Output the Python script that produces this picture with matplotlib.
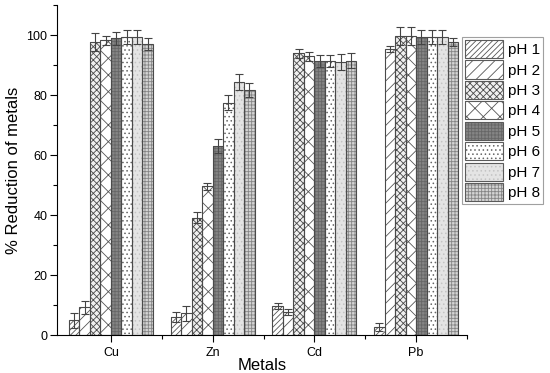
import numpy as np
import matplotlib
matplotlib.use("Agg")
import matplotlib.pyplot as plt
from matplotlib.patches import Patch
from matplotlib.ticker import MultipleLocator

plt.rcParams['font.family'] = ['Liberation Sans', 'DejaVu Sans']
plt.rcParams['hatch.linewidth'] = 0.6

# data
metals = ['Cu', 'Zn', 'Cd', 'Pb']
labels = ['pH 1', 'pH 2', 'pH 3', 'pH 4', 'pH 5', 'pH 6', 'pH 7', 'pH 8']
ph1 = [5.0, 5.9, 9.6, 2.6]
ph2 = [9.3, 7.3, 7.6, 95.3]
ph3 = [97.8, 39.1, 93.9, 99.6]
ph4 = [98.2, 49.6, 92.9, 99.6]
ph5 = [98.9, 63.0, 91.4, 99.3]
ph6 = [99.3, 77.5, 91.2, 99.3]
ph7 = [99.3, 84.4, 90.9, 99.4]
ph8 = [96.9, 81.7, 91.5, 97.7]
err1 = [2.5, 1.7, 1.0, 1.3]
err2 = [2.2, 2.5, 1.0, 1.0]
err3 = [3.0, 1.9, 1.6, 3.0]
err4 = [1.5, 1.1, 1.6, 3.0]
err5 = [2.2, 2.4, 2.0, 2.3]
err6 = [2.4, 2.5, 2.0, 2.3]
err7 = [2.4, 2.6, 2.7, 2.3]
err8 = [2.0, 2.2, 2.5, 1.4]

values = [ph1, ph2, ph3, ph4, ph5, ph6, ph7, ph8]
errors = [err1, err2, err3, err4, err5, err6, err7, err8]

# look of each series: face, hatch, hatch colour
faces = ['white', 'white', '#f0f0f0', 'white', '#858585', 'white', '#e4e4e4', '#d4d4d4']
hatches = ['//////', '///', 'xxxxx', 'xx', '+++++', '....', '....', '+++++']
hcolors = ['#555555', '#555555', '#4a4a4a', '#555555', '#666666', '#666666', '#c4c4c4', '#858585']

fig = plt.figure(figsize=(5.5, 3.73), dpi=100)
ax = fig.add_axes([57/550, 1-335/373, 410/550, 330/373])

x = np.arange(1, len(metals) + 1)
w = 0.103
handles = []
for i in range(8):
    pos = x + (i - 3.5) * w
    b = ax.bar(pos, values[i], w, color=faces[i], hatch=hatches[i],
               edgecolor=hcolors[i], linewidth=0, zorder=2)
    ax.bar(pos, values[i], w, fill=False, edgecolor='#4a4a4a', linewidth=0.8, zorder=3)
    ax.errorbar(pos, values[i], yerr=errors[i], fmt='none', ecolor='#444444',
                elinewidth=0.8, capsize=3, capthick=0.8, zorder=4)
    outline = Patch(facecolor='none', edgecolor='#5a5a5a', linewidth=0.8)
    handles.append((b.patches[0], outline))

ax.set_xlim(0.47, 4.5)
ax.set_ylim(0, 110)
ax.set_xticks(x)
ax.set_xticklabels(metals, fontsize=9)
ax.set_xticks(x + 0.5, minor=True)
ax.set_yticks([0, 20, 40, 60, 80, 100])
ax.yaxis.set_minor_locator(MultipleLocator(10))
ax.tick_params(axis='y', labelsize=9, length=5, width=0.8, pad=2)
ax.tick_params(axis='x', length=5, width=0.8, pad=4)
ax.tick_params(which='minor', length=3, width=0.8)
ax.spines['top'].set_visible(False)
ax.spines['right'].set_visible(False)
ax.set_xlabel('Metals', fontsize=12, labelpad=-1)
ax.set_ylabel('% Reduction of metals', fontsize=12, labelpad=4)

leg = fig.legend(handles, labels, loc='upper left', bbox_to_anchor=(462/550, 1-37/373),
                 fontsize=11, handlelength=2.5, handleheight=1.45, labelspacing=0.15,
                 handletextpad=0.3, borderpad=0.2, borderaxespad=0, fancybox=False,
                 frameon=True, edgecolor='#888888')
leg.get_frame().set_linewidth(0.8)

fig.savefig('out.png', dpi=100)
